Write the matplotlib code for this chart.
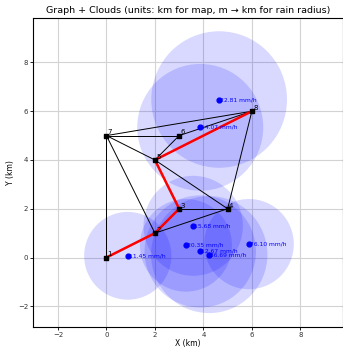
import matplotlib.pyplot as plt
from matplotlib.patches import Circle

# graph nodes (km)
node_ids = [1, 2, 3, 4, 5, 6, 7, 8]
node_x = [0, 2, 3, 5, 2, 3, 0, 6]
node_y = [0, 1, 2, 2, 4, 5, 5, 6]

edges = [(1, 7), (1, 2), (2, 3), (3, 5), (5, 8), (7, 8), (7, 6), (6, 8),
         (7, 5), (7, 2), (5, 6), (5, 4), (3, 4), (2, 4), (8, 4)]
path = [1, 2, 3, 5, 8]

# rain clouds: center (km), radius (km), rate
cloud_x = [4.65, 3.87, 3.58, 3.28, 3.87, 4.24, 5.88, 0.88]
cloud_y = [6.48, 5.34, 1.30, 0.50, 0.25, 0.12, 0.55, 0.07]
cloud_r = [2.8, 2.6, 2.05, 1.9, 2.3, 2.4, 1.85, 1.8]
cloud_rate = [22.81, 14.07, 15.68, 20.35, 12.67, 36.69, 76.10, 11.45]

fig = plt.figure(figsize=(3.43, 3.49), dpi=100)
ax = fig.add_axes([33/343, 22/349, 310/343, 309.4/349])

for x, y, r in zip(cloud_x, cloud_y, cloud_r):
    ax.add_patch(Circle((x, y), r, color='blue', alpha=0.15, lw=0))

pos = {n: (x, y) for n, x, y in zip(node_ids, node_x, node_y)}
for a, b in edges:
    ax.plot([pos[a][0], pos[b][0]], [pos[a][1], pos[b][1]], color='black', lw=0.7, zorder=2)
for a, b in zip(path[:-1], path[1:]):
    ax.plot([pos[a][0], pos[b][0]], [pos[a][1], pos[b][1]], color='red', lw=1.8, zorder=3)

ax.scatter(node_x, node_y, s=7, color='black', marker='s', zorder=4)
for n, x, y in zip(node_ids, node_x, node_y):
    ax.text(x + 0.05, y + 0.05, str(n), fontsize=5, zorder=5)

ax.scatter(cloud_x, cloud_y, s=12, color='blue', zorder=4)
for x, y, v in zip(cloud_x, cloud_y, cloud_rate):
    ax.text(x + 0.04, y, '%.2f mm/h' % v, fontsize=4.3, color='blue', va='center', zorder=5)

ax.set_xlim(-3.03, 9.76)
ax.set_ylim(-2.85, 9.84)
ax.set_xticks([-2, 0, 2, 4, 6, 8])
ax.set_yticks([-2, 0, 2, 4, 6, 8])
ax.grid(True, color='#d3d3d3', lw=0.8)
ax.set_axisbelow(True)
ax.tick_params(labelsize=5, length=2, width=0.6, pad=1.5, labelcolor='#333333')
for s in ax.spines.values():
    s.set_linewidth(0.8)
ax.set_xlabel('X (km)', fontsize=5.5, labelpad=1)
ax.set_ylabel('Y (km)', fontsize=5.5, labelpad=2)
ax.set_title('Graph + Clouds (units: km for map, m \u2192 km for rain radius)', fontsize=6.8, pad=3)

fig.savefig('out.png', dpi=100)
